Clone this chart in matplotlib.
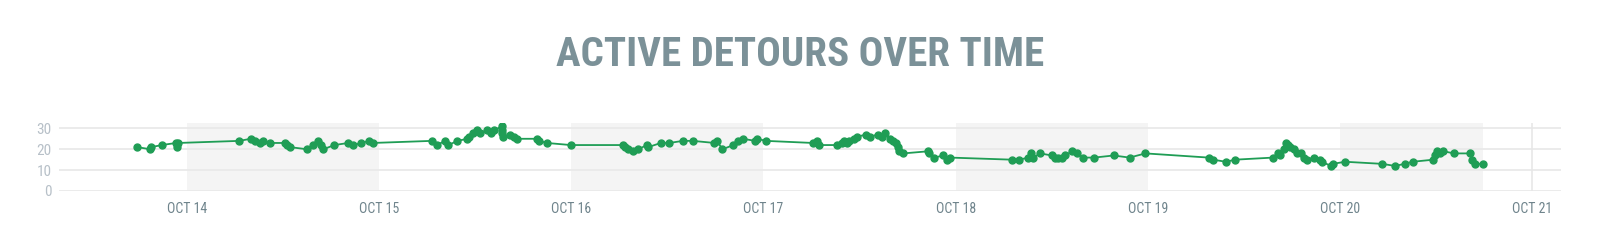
import matplotlib
matplotlib.use("Agg")
import matplotlib.pyplot as plt
import matplotlib.dates as mdates
from matplotlib import font_manager
from matplotlib.ticker import FuncFormatter
import pandas as pd

# active detours (one list per day)
oct13_times = ["17:47", "19:23", "19:32", "20:50", "22:38", "22:47", "22:55"]
oct13_counts = [21, 20, 21, 22, 23, 21, 23]

oct14_times = ["06:32", "07:57", "08:30", "09:07", "09:32", "10:22", "12:15", "12:27",
               "12:52", "14:57", "15:47", "16:24", "16:42", "17:02", "18:24", "20:09",
               "20:47", "21:44", "22:44", "23:12"]
oct14_counts = [24, 25, 24, 23, 24, 23, 23, 22, 21, 20, 22, 24, 22, 20, 22, 23, 22, 23, 24, 23]

oct15_times = ["06:34", "07:12", "08:14", "08:39", "09:46", "11:01", "11:14", "11:46",
               "12:12", "12:36", "13:31", "13:56", "14:21", "15:19", "15:21", "15:23",
               "15:26", "16:21", "16:53", "17:11", "19:41", "20:01", "20:56", "23:56"]
oct15_counts = [24, 22, 24, 22, 24, 25, 26, 28, 29, 28, 29, 28, 29, 31, 29, 28,
                26, 27, 26, 25, 25, 24, 23, 22]

oct16_times = ["06:30", "06:43", "07:08", "07:45", "08:23", "09:26", "09:36", "11:11",
               "12:15", "13:56", "15:11", "17:53", "18:11", "18:53", "20:15", "20:53",
               "21:26", "22:58", "23:11"]
oct16_counts = [22, 21, 20, 19, 20, 22, 21, 23, 23, 24, 24, 23, 24, 20, 22, 24, 25, 24, 25]

oct17_times = ["00:20", "06:10", "06:40", "07:00", "09:10", "09:48", "10:00", "10:25",
               "10:42", "11:20", "11:40", "12:50", "13:20", "14:15", "14:48", "15:12",
               "15:50", "16:14", "16:35", "16:52", "16:59", "17:29", "20:32", "20:42",
               "21:20", "22:29", "22:55", "23:19"]
oct17_counts = [24, 23, 24, 22, 22, 23, 24, 23, 24, 25, 26, 27, 26, 27, 26, 28,
                25, 24, 23, 21, 19, 18, 19, 18, 16, 17, 15, 16]

oct18_times = ["07:02", "07:57", "09:06", "09:24", "09:44", "10:34", "12:02", "12:27",
               "12:51", "13:17", "13:42", "14:32", "15:09", "15:54", "17:19", "19:44",
               "21:44", "23:43"]
oct18_counts = [15, 15, 16, 18, 16, 18, 17, 16, 16, 16, 17, 19, 18, 16, 16, 17, 16, 18]

oct19_times = ["07:36", "08:09", "09:46", "10:56", "15:41", "16:13", "16:33", "16:58",
               "17:18", "17:35", "17:48", "18:13", "18:38", "19:08", "19:28", "19:53",
               "20:43", "21:28", "21:46", "22:53", "23:08"]
oct19_counts = [16, 15, 14, 15, 16, 18, 17, 20, 23, 22, 21, 20, 18, 18, 16, 15,
                16, 15, 14, 12, 13]

oct20_times = ["00:40", "05:16", "06:55", "08:05", "09:05", "11:42", "11:50", "12:08",
               "12:33", "12:57", "14:17", "16:17", "16:30", "16:50", "17:53"]
oct20_counts = [14, 13, 12, 13, 14, 15, 17, 19, 18, 19, 18, 18, 15, 13, 13]

days = [(13, oct13_times, oct13_counts), (14, oct14_times, oct14_counts),
        (15, oct15_times, oct15_counts), (16, oct16_times, oct16_counts),
        (17, oct17_times, oct17_counts), (18, oct18_times, oct18_counts),
        (19, oct19_times, oct19_counts), (20, oct20_times, oct20_counts)]

stamps = []
counts = []
for d, tl, cl in days:
    stamps += ["2019-10-%02d %s" % (d, t) for t in tl]
    counts += cl
times = pd.to_datetime(stamps)

shaded_days = [14, 16, 18, 20]


def pick(names):
    for n in names:
        try:
            font_manager.findfont(font_manager.FontProperties(family=n),
                                  fallback_to_default=False)
            return n
        except ValueError:
            pass
    return "DejaVu Sans"


narrow = pick(["Liberation Sans Narrow", "Roboto Condensed", "DejaVu Sans"])

GREEN = "#1f9d55"

fig = plt.figure(figsize=(16, 2.46), dpi=100)
ax = fig.add_axes([0.0367, 0.2236, 0.9387, 0.2776])

last = times[-1]
for d in shaded_days:
    start = pd.Timestamp(2019, 10, d)
    end = min(start + pd.Timedelta(days=1), last)
    ax.axvspan(start, end, color="#f4f4f4", lw=0, zorder=0)

ax.axvline(pd.Timestamp(2019, 10, 21), color="#e6e6e6", lw=1.1, zorder=1)

ax.plot(times, counts, "-o", color=GREEN, lw=1.3, ms=5, zorder=3)

ax.set_xlim(pd.Timestamp("2019-10-13 07:58"), pd.Timestamp("2019-10-21 03:35"))
ax.set_ylim(0, 32.7)
ax.set_yticks([0, 10, 20, 30])
ax.grid(axis="y", color="#e9e9e9", lw=1.3, zorder=0.5)
ax.set_axisbelow(True)
for s in ax.spines.values():
    s.set_visible(False)

ax.xaxis.set_major_locator(mdates.DayLocator())
ax.xaxis.set_major_formatter(FuncFormatter(
    lambda x, p: mdates.num2date(x).strftime("%b %d").upper()))
ax.tick_params(axis="x", length=0, pad=8, labelsize=10, labelcolor="#6f848c")
ax.tick_params(axis="y", length=0, pad=5, labelsize=11, labelcolor="#b7c0c8")
for lab in ax.get_xticklabels() + ax.get_yticklabels():
    lab.set_family(narrow)

fig.text(0.5, 0.778, "ACTIVE DETOURS OVER TIME", ha="center", va="center",
         fontsize=29.5, fontweight="bold", color="#7b9198", family=narrow)

fig.savefig("out.png", dpi=100)
